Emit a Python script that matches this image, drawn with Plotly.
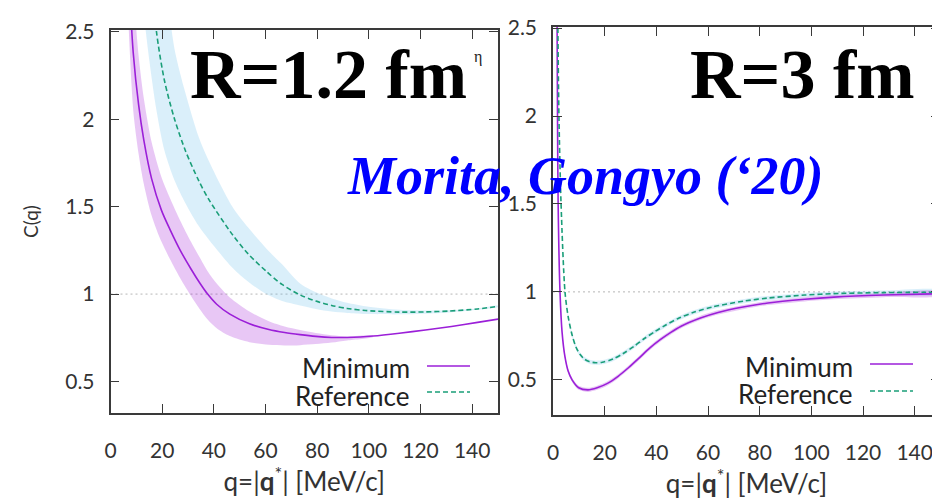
import plotly.graph_objects as go

# ---------------- data: R = 1.2 fm (left panel) ----------------
L_min_q  = [6.8, 8.8, 10.9, 12.9, 15.9, 19.7, 23.0, 27.0, 31.1, 34.5, 37.6, 41.1, 46.2, 53.8, 61.3, 67.4, 73.4, 79.5, 85.6, 91.6, 101.7, 111.8, 121.9, 132.0, 142.1, 150.1]
L_min_c  = [2.9, 2.38, 2.08, 1.88, 1.66, 1.48, 1.37, 1.25, 1.145, 1.065, 1.0, 0.942, 0.885, 0.83, 0.797, 0.78, 0.768, 0.758, 0.752, 0.752, 0.76, 0.776, 0.795, 0.815, 0.838, 0.857]
L_min_bq = [6.8, 8.8, 10.9, 12.9, 15.9, 19.7, 23.0, 27.0, 31.1, 34.5, 37.6, 41.1, 46.2, 53.8, 61.3, 67.4, 73.4, 79.5, 85.6, 91.6, 101.7]
L_min_hi = [3.3, 2.75, 2.36, 2.12, 1.87, 1.67, 1.55, 1.42, 1.3, 1.21, 1.13, 1.06, 0.98, 0.9, 0.845, 0.815, 0.795, 0.778, 0.765, 0.758, 0.762]
L_min_lo = [2.6, 2.05, 1.8, 1.63, 1.45, 1.3, 1.2, 1.09, 0.99, 0.915, 0.855, 0.805, 0.76, 0.725, 0.71, 0.706, 0.708, 0.714, 0.723, 0.735, 0.755]

L_ref_q  = [12.9, 14.9, 17.8, 20.9, 24.8, 29.0, 34.1, 38.1, 47.2, 53.3, 60.3, 66.4, 73.4, 79.5, 85.6, 91.6, 98.7, 111.8, 121.9, 131.0, 142.1, 150.1]
L_ref_c  = [3.6, 3.0, 2.5, 2.22, 2.0, 1.82, 1.65, 1.54, 1.34, 1.23, 1.13, 1.055, 0.995, 0.96, 0.935, 0.918, 0.906, 0.897, 0.898, 0.903, 0.915, 0.93]
L_ref_hi = [4.5, 4.0, 3.3, 2.85, 2.4, 2.15, 1.9, 1.76, 1.5, 1.38, 1.26, 1.17, 1.06, 1.01, 0.975, 0.95, 0.93, 0.91, 0.906, 0.908, 0.918, 0.933]
L_ref_lo = [2.6, 2.35, 2.05, 1.82, 1.65, 1.52, 1.39, 1.31, 1.15, 1.07, 1.0, 0.96, 0.935, 0.915, 0.9, 0.892, 0.886, 0.884, 0.888, 0.895, 0.91, 0.927]

# ---------------- data: R = 3 fm (right panel) ----------------
R_min_q = [1.38, 1.59, 1.74, 1.99, 2.71, 3.52, 4.64, 5.86, 7.39, 9.94, 13.5, 17.1, 21.1, 25.2, 29.3, 33.4, 37.4, 41.5, 45.6, 49.6, 56.8, 63.9, 74.1, 83.2, 97.5, 108.7, 128.0, 150.0]
R_min_c = [3.0, 2.5, 2.0, 1.5, 1.0, 0.77, 0.63, 0.55, 0.5, 0.455, 0.443, 0.455, 0.48, 0.52, 0.57, 0.625, 0.68, 0.728, 0.77, 0.805, 0.85, 0.883, 0.915, 0.937, 0.958, 0.97, 0.982, 0.99]
R_ref_q = [1.59, 1.89, 2.3, 3.12, 4.64, 5.86, 7.39, 8.92, 10.45, 11.97, 14.0, 16.55, 19.1, 23.2, 27.2, 31.3, 35.4, 39.5, 43.5, 48.6, 54.7, 61.9, 74.1, 83.2, 97.5, 108.7, 128.0, 150.0]
R_ref_c = [3.0, 2.5, 2.0, 1.5, 1.0, 0.86, 0.755, 0.685, 0.645, 0.62, 0.604, 0.597, 0.6, 0.618, 0.65, 0.69, 0.735, 0.775, 0.81, 0.85, 0.885, 0.915, 0.948, 0.965, 0.982, 0.99, 0.996, 0.998]
R_band_halfwidth = 0.012

x_ticks = [0, 20, 40, 60, 80, 100, 120, 140]
y_ticks = [0.5, 1, 1.5, 2, 2.5]
y_ticklabels = ["0.5", "1", "1.5", "2", "2.5"]

PURPLE = "#9b1fd8"
GREEN = "#1a9e78"
PURPLE_BAND = "rgba(148,0,211,0.22)"
BLUE_BAND = "rgba(86,180,233,0.22)"

# the page body adds an 8 px offset; figure sized to fill the rest of the window
W, H, OFF = 932, 494, 8


def px(X):
    return (X - OFF) / W


def py(Y):
    return 1 - (Y - OFF) / H


fig = go.Figure()


def band(q, hi, lo, color, xa, ya):
    fig.add_trace(go.Scatter(
        x=list(q) + list(q)[::-1], y=list(hi) + list(lo)[::-1],
        fill="toself", fillcolor=color, line=dict(width=0, shape="spline", smoothing=0.8),
        mode="lines", hoverinfo="skip", showlegend=False, xaxis=xa, yaxis=ya))


def curve(q, c, color, dash, xa, ya):
    fig.add_trace(go.Scatter(
        x=q, y=c, mode="lines",
        line=dict(color=color, width=1.6, dash=dash, shape="spline", smoothing=0.8),
        showlegend=False, xaxis=xa, yaxis=ya))


# left panel
band(L_ref_q, L_ref_hi, L_ref_lo, BLUE_BAND, "x", "y")
band(L_min_bq, L_min_hi, L_min_lo, PURPLE_BAND, "x", "y")
curve(L_min_q, L_min_c, PURPLE, "solid", "x", "y")
curve(L_ref_q, L_ref_c, GREEN, "5px,3px", "x", "y")

# right panel (thin bands)
band(R_ref_q, [v + R_band_halfwidth for v in R_ref_c], [v - R_band_halfwidth for v in R_ref_c], BLUE_BAND, "x2", "y2")
band(R_min_q, [v + R_band_halfwidth for v in R_min_c], [v - R_band_halfwidth for v in R_min_c], PURPLE_BAND, "x2", "y2")
curve(R_min_q, R_min_c, PURPLE, "solid", "x2", "y2")
curve(R_ref_q, R_ref_c, GREEN, "5px,3px", "x2", "y2")

TICKFONT = dict(family="Lato", size=21, color="#333333")
axis_common = dict(showgrid=False, zeroline=False, showline=True, linecolor="#3a3a3a", linewidth=1.5,
                   mirror="ticks", ticks="inside", ticklen=9, tickcolor="#3a3a3a", tickwidth=1.3,
                   tickfont=TICKFONT, automargin=False, ticklabeloverflow="allow")
xtitle = "q=|<b>q</b><sup>*</sup>| [MeV/c]"
XTITLEFONT = dict(family="Lato", size=26, color="#333333")

fig.update_layout(
    width=W, height=H, margin=dict(l=0, r=0, t=0, b=0, autoexpand=False),
    paper_bgcolor="white", plot_bgcolor="white", showlegend=False,
    xaxis=dict(domain=[px(110.5), px(498)], range=[0, 150], tickvals=x_ticks,
               ticklabelstandoff=18, anchor="y",
               title=dict(text=xtitle, font=XTITLEFONT, standoff=2),
               **axis_common),
    yaxis=dict(domain=[py(413), py(30)], range=[0.32, 2.51], tickvals=y_ticks,
               ticktext=y_ticklabels, ticklabelstandoff=10, anchor="x",
               title=dict(text="C(q)", font=dict(family="Lato", size=19, color="#333333"), standoff=22),
               **axis_common),
    xaxis2=dict(domain=[px(553), 1.0], range=[0, 149.8], tickvals=x_ticks,
                ticklabelstandoff=18, anchor="y2",
                title=dict(text=xtitle, font=XTITLEFONT, standoff=2),
                **axis_common),
    yaxis2=dict(domain=[py(415), py(27)], range=[0.30, 2.506], tickvals=y_ticks,
                ticktext=y_ticklabels, ticklabelstandoff=10, anchor="x2",
                **axis_common),
)

# y = 1 reference lines
for xa, ya in (("x", "y"), ("x2", "y2")):
    fig.add_shape(type="line", xref=f"{xa} domain", yref=ya, x0=0, x1=1, y0=1, y1=1,
                  line=dict(color="#b5b5b5", width=1, dash="2px,3px"), layer="below")

# legends (text then sample line, gnuplot style)
LEGFONT = dict(family="Lato", size=26, color="#222222")
legend_items = [
    # (text right x, text y, line x0, line x1, line y, label, color, dash)
    (412, 368, 427, 470, 366, "Minimum", PURPLE, "solid"),
    (412, 396, 427, 470, 392, "Reference", GREEN, "5px,3px"),
    (855, 367, 870, 913, 364, "Minimum", PURPLE, "solid"),
    (855, 394, 870, 913, 391, "Reference", GREEN, "5px,3px"),
]
for tx, ty, lx0, lx1, ly, label, col, dash in legend_items:
    fig.add_annotation(text=label, x=px(tx), y=py(ty), xref="paper", yref="paper",
                       xanchor="right", yanchor="middle", showarrow=False, font=LEGFONT)
    fig.add_shape(type="line", xref="paper", yref="paper", x0=px(lx0), x1=px(lx1),
                  y0=py(ly), y1=py(ly), line=dict(color=col, width=1.6, dash=dash))

# big labels
BIG = dict(family="Liberation Serif", size=70, color="black")
fig.add_annotation(text="<b>R=1.2 fm</b>", x=px(328), y=py(74), xref="paper", yref="paper",
                   showarrow=False, font=BIG, xanchor="center", yanchor="middle")
fig.add_annotation(text="<b>R=3 fm</b>", x=px(802), y=py(74), xref="paper", yref="paper",
                   showarrow=False, font=BIG, xanchor="center", yanchor="middle")
fig.add_annotation(text="η", x=px(478), y=py(46), xref="paper", yref="paper",
                   showarrow=False, font=dict(family="Liberation Serif", size=16, color="#222222"))
fig.add_annotation(text="<b><i>Morita, Gongyo (‘20)</i></b>", x=px(585), y=py(176),
                   xref="paper", yref="paper", showarrow=False,
                   font=dict(family="Liberation Serif", size=54, color="#0000ff"),
                   xanchor="center", yanchor="middle")

fig.write_html("out.html")
